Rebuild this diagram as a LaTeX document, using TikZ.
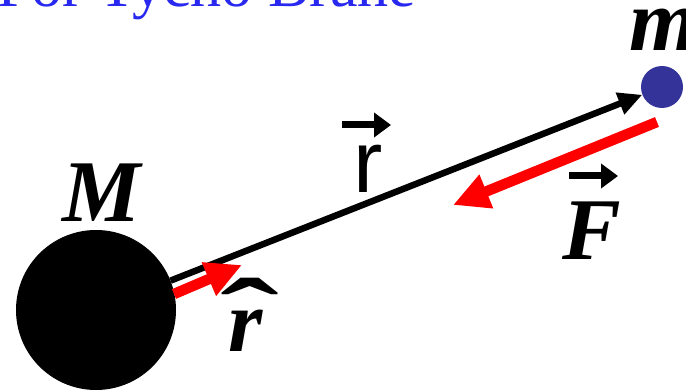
\documentclass[tikz,border=0pt]{standalone}
\usepackage{fontspec}
\setmainfont{Liberation Serif}
\newfontfamily\arialfont{Liberation Sans}
\usetikzlibrary{arrows.meta}
\definecolor{titleblue}{RGB}{40,40,240}
\definecolor{massblue}{RGB}{51,51,153}
\definecolor{vred}{RGB}{255,0,0}
\begin{document}
\begin{tikzpicture}[x=1pt,y=-1pt,
  bigmass/.style={circle,fill=black,inner sep=0pt,minimum size=160pt},
  smallmass/.style={circle,fill=massblue,inner sep=0pt,minimum size=42pt},
  sym/.style={inner sep=0pt,font=\fontsize{88}{88}\selectfont\bfseries\itshape},
  rvec/.style={black,line width=6.5pt,-{Triangle[length=24pt,width=22pt]}},
  redvec/.style={vred,line width=10.5pt,-{Triangle[length=36pt,width=34pt]}},
  vecarrow/.style={black,line width=7pt,-{Triangle[length=17pt,width=24pt]}}]
\useasboundingbox (0,0) rectangle (686,390);
\begin{scope}
\clip (0,0) rectangle (686,390);
\node[anchor=base west,inner sep=0pt,text=titleblue,font=\fontsize{62}{62}\selectfont] (title) at (-3,7) {For Tycho Brahe};
\end{scope}
\node[bigmass] (M) at (96,310) {};
\node[smallmass] (m) at (662,87) {};
\draw[rvec] (M) -- (m);
\coordinate (rh0) at (174,294);
\coordinate (rh1) at (242,265);
\draw[redvec] (rh0) -- (rh1);
\coordinate (F0) at (657,122);
\coordinate (F1) at (453,205);
\draw[redvec] (F0) -- (F1);
% labels
\node[sym,anchor=base] (Mlab) at (102,222) {M};
\node[sym,anchor=base] (mlab) at (664,51) {m};
\node[sym,anchor=base] (Flab) at (592,260) {F};
\coordinate (Fa0) at (569,176);
\coordinate (Fa1) at (618,176);
\draw[vecarrow] (Fa0) -- (Fa1);
\node[sym,anchor=base] (rhlab) at (246,352) {r};
\node[inner sep=0pt,anchor=base,xscale=1.7,font=\fontsize{104}{104}\selectfont\bfseries] (hat) at (250,352) {ˆ};
\node[inner sep=0pt,anchor=base,font=\arialfont\fontsize{88}{88}\selectfont] (rlab) at (368,193) {r};
\coordinate (ra0) at (342,125);
\coordinate (ra1) at (391,125);
\draw[vecarrow] (ra0) -- (ra1);
\end{tikzpicture}
\end{document}
